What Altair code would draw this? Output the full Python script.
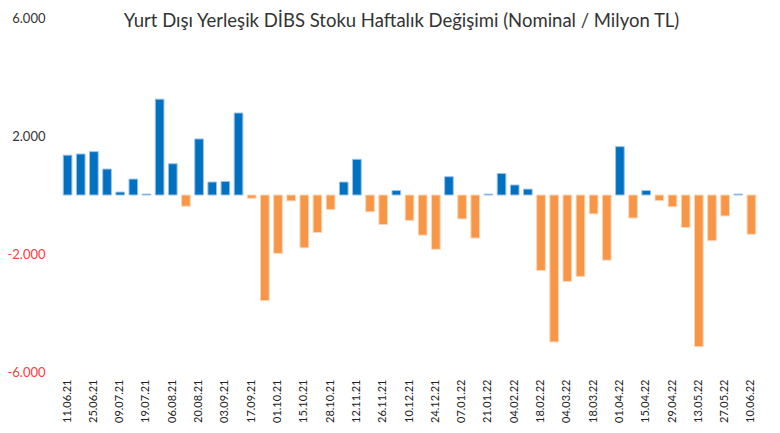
import altair as alt
import pandas as pd

dates = ["11.06.21", "18.06.21", "25.06.21", "02.07.21", "09.07.21", "16.07.21", "19.07.21",
         "30.07.21", "06.08.21", "13.08.21", "20.08.21", "27.08.21", "03.09.21", "10.09.21",
         "17.09.21", "24.09.21", "01.10.21", "08.10.21", "15.10.21", "22.10.21", "28.10.21",
         "05.11.21", "12.11.21", "19.11.21", "26.11.21", "03.12.21", "10.12.21", "17.12.21",
         "24.12.21", "31.12.21", "07.01.22", "14.01.22", "21.01.22", "28.01.22", "04.02.22",
         "11.02.22", "18.02.22", "25.02.22", "04.03.22", "11.03.22", "18.03.22", "25.03.22",
         "01.04.22", "08.04.22", "15.04.22", "22.04.22", "29.04.22", "06.05.22", "13.05.22",
         "20.05.22", "27.05.22", "03.06.22", "10.06.22"]

values = [1350, 1390, 1470, 880, 100, 540, 30, 3250, 1060, -380, 1900, 440, 460, 2780,
          -110, -3580, -1980, -200, -1790, -1270, -490, 440, 1210, -570, -1000, 150,
          -860, -1360, -1840, 620, -810, -1460, 30, 730, 340, 200, -2560, -4980, -2930,
          -2760, -640, -2210, 1640, -780, 150, -190, -400, -1100, -5140, -1550, -710, 30,
          -1330]

tick_labels = ["11.06.21", "25.06.21", "09.07.21", "19.07.21", "06.08.21", "20.08.21",
               "03.09.21", "17.09.21", "01.10.21", "15.10.21", "28.10.21", "12.11.21",
               "26.11.21", "10.12.21", "24.12.21", "07.01.22", "21.01.22", "04.02.22",
               "18.02.22", "04.03.22", "18.03.22", "01.04.22", "15.04.22", "29.04.22",
               "13.05.22", "27.05.22", "10.06.22"]

y_ticks = [-6000, -2000, 2000, 6000]

df = pd.DataFrame({"date": dates, "value": values})

FONT = "Lato"

chart = alt.Chart(df).mark_bar(strokeWidth=1).encode(
    x=alt.X("date:N", sort=dates,
            scale=alt.Scale(paddingInner=0.34, paddingOuter=0.17),
            axis=alt.Axis(values=tick_labels, title=None, labelAngle=270,
                          labelAlign="right", labelBaseline="middle",
                          ticks=False, domain=False, labelPadding=7,
                          labelFont=FONT, labelFontSize=11, labelColor="#222222",
                          labelOverlap=False)),
    y=alt.Y("value:Q",
            scale=alt.Scale(domain=[-6000, 6000], nice=False),
            axis=alt.Axis(values=y_ticks, title=None, grid=False, ticks=False,
                          domain=False, labelPadding=16, labelFont=FONT,
                          labelFontSize=13,
                          labelExpr="(datum.value < 0 ? '-' : '') + replace(format(abs(datum.value), ','), ',', '.')",
                          labelColor={"expr": "datum.value < 0 ? '#ff3b3b' : '#333333'"})),
    color=alt.condition(alt.datum.value >= 0, alt.value("#0070C0"), alt.value("#F79646")),
    stroke=alt.condition(alt.datum.value >= 0, alt.value("#9DC3E6"), alt.value("#FBD6B6")),
).properties(
    width=697,
    height=354,
    title=alt.TitleParams(
        "Yurt Dışı Yerleşik DİBS Stoku Haftalık Değişimi (Nominal / Milyon TL)",
        font=FONT, fontSize=18.5, fontWeight="normal", color="#333333",
        anchor="middle", offset=-6, dx=-8, dy=12),
    autosize=alt.AutoSizeParams(type="none"),
    padding={"left": 53, "top": 10, "right": 10, "bottom": 52},
).configure_view(stroke=None)

chart.save("out.html", embed_options={"renderer": "svg", "actions": False})
